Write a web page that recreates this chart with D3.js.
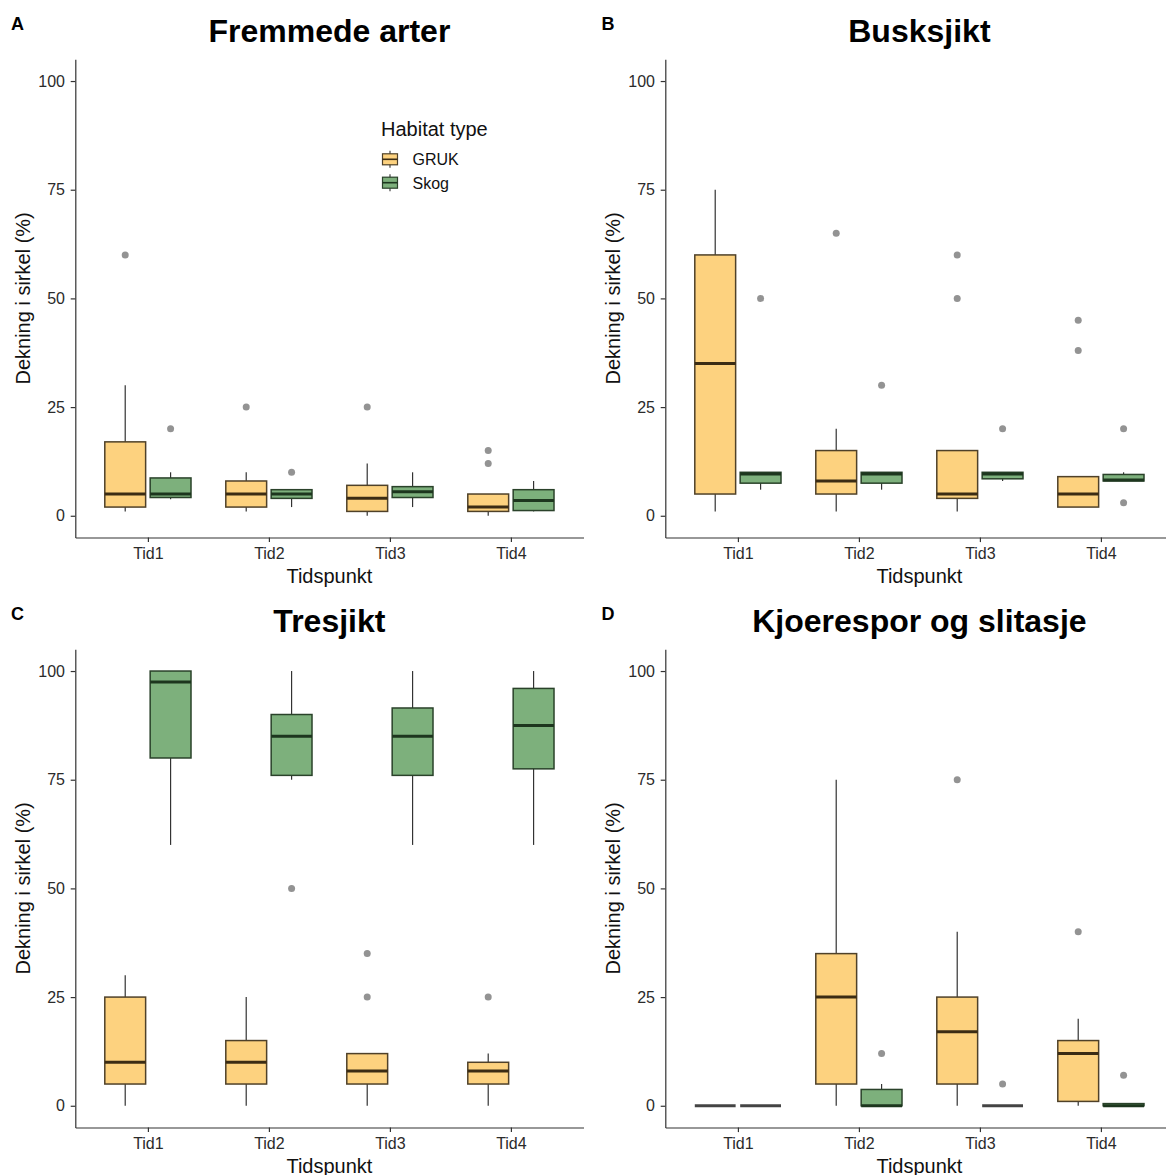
<!DOCTYPE html>
<html>
<head>
<meta charset="utf-8">
<script src="https://cdn.jsdelivr.net/npm/d3@7"></script>
<style>
  body { margin: 0; background: #fff; }
  svg { display: block; font-family: "Liberation Sans", Arial, sans-serif; }
</style>
</head>
<body>
<div id="chart"></div>
<script>
const times = ["Tid1", "Tid2", "Tid3", "Tid4"];
const habitats = ["GRUK", "Skog"];
const panelTags = ["A", "B", "C", "D"];
const panelTitles = ["Fremmede arter", "Busksjikt", "Tresjikt", "Kjoerespor og slitasje"];
const yTicks = [0, 25, 50, 75, 100];

// each row: [lower whisker, Q1, median, Q3, upper whisker] for Tid1..Tid4
const fremmedeGruk = [[1, 2, 5, 17, 30], [1, 2, 5, 8, 10], [0, 1, 4, 7, 12], [0, 1, 2, 5, 5]];
const fremmedeSkog = [[3.8, 4.2, 5, 8.7, 10], [2, 4, 5, 6, 6], [2, 4.2, 5.5, 6.7, 10], [1, 1.2, 3.5, 6, 8]];
const fremmedeOut = [["Tid1", "GRUK", 60], ["Tid1", "Skog", 20], ["Tid2", "GRUK", 25], ["Tid2", "Skog", 10],
                     ["Tid3", "GRUK", 25], ["Tid4", "GRUK", 15], ["Tid4", "GRUK", 12]];

const buskGruk = [[1, 5, 35, 60, 75], [1, 5, 8, 15, 20], [1, 4, 5, 15, 15], [2, 2, 5, 9, 9]];
const buskSkog = [[6, 7.5, 9.6, 10, 10], [6, 7.5, 9.6, 10, 10], [8, 8.5, 9.6, 10, 10], [8, 8, 8.2, 9.5, 10]];
const buskOut = [["Tid1", "Skog", 50], ["Tid2", "GRUK", 65], ["Tid2", "Skog", 30], ["Tid3", "GRUK", 60],
                 ["Tid3", "GRUK", 50], ["Tid3", "Skog", 20], ["Tid4", "GRUK", 45], ["Tid4", "GRUK", 38],
                 ["Tid4", "Skog", 20], ["Tid4", "Skog", 3]];

const treGruk = [[0, 5, 10, 25, 30], [0, 5, 10, 15, 25], [0, 5, 8, 12, 12], [0, 5, 8, 10, 12]];
const treSkog = [[60, 80, 97.5, 100, 100], [75, 76, 85, 90, 100], [60, 76, 85, 91.5, 100], [60, 77.5, 87.5, 96, 100]];
const treOut = [["Tid2", "Skog", 50], ["Tid3", "GRUK", 35], ["Tid3", "GRUK", 25], ["Tid4", "GRUK", 25]];

const kjoerGruk = [[0, 0, 0, 0, 0], [0, 5, 25, 35, 75], [0, 5, 17, 25, 40], [0, 1, 12, 15, 20]];
const kjoerSkog = [[0, 0, 0, 0, 0], [0, 0, 0, 3.75, 5], [0, 0, 0, 0, 0], [0, 0, 0, 0.5, 0.5]];
const kjoerOut = [["Tid2", "Skog", 12], ["Tid3", "GRUK", 75], ["Tid3", "Skog", 5], ["Tid4", "GRUK", 40],
                  ["Tid4", "Skog", 7]];

const panels = [
  { gruk: fremmedeGruk, skog: fremmedeSkog, out: fremmedeOut },
  { gruk: buskGruk, skog: buskSkog, out: buskOut },
  { gruk: treGruk, skog: treSkog, out: treOut },
  { gruk: kjoerGruk, skog: kjoerSkog, out: kjoerOut }
];

const fill = d3.scaleOrdinal(habitats, ["#FDD27F", "#7DB07C"]);
const outline = d3.scaleOrdinal(habitats, ["#4f4129", "#2a422a"]);
const medianCol = d3.scaleOrdinal(habitats, ["#3b2c14", "#1d361e"]);

const width = 1166, height = 1175;
const svg = d3.select("#chart").append("svg")
  .attr("width", width)
  .attr("height", height);

panels.forEach((p, i) => {
  const col = i % 2, row = Math.floor(i / 2);
  const left = col === 0 ? 75.3 : 665.3;
  const right = left + 508.2;
  const top = 59.3 + row * 590;
  const bottom = 537.5 + row * 590;

  const g = svg.append("g");

  const x = d3.scalePoint().domain(times).range([left, right]).padding(0.6);
  const step = x.step();
  const xInner = d3.scaleBand().domain(habitats)
    .range([-0.375 * step, 0.375 * step])
    .paddingInner(0.1).paddingOuter(0.05);
  const y = d3.scaleLinear().domain([-5, 105]).range([bottom, top]);

  // Axes
  const yAxis = g.append("g")
    .attr("transform", `translate(${left},0)`)
    .call(d3.axisLeft(y).tickValues(yTicks).tickSize(4.6).tickSizeOuter(0).tickPadding(5.7));
  const xAxis = g.append("g")
    .attr("transform", `translate(0,${bottom})`)
    .call(d3.axisBottom(x).tickSize(4.6).tickSizeOuter(0).tickPadding(6));
  [yAxis, xAxis].forEach(a => {
    a.selectAll("path, line").attr("stroke", "#333").attr("stroke-width", 1.2);
    a.selectAll("text").attr("font-size", 16).attr("fill", "#2b2b2b")
      .attr("font-family", "\"Liberation Sans\", Arial, sans-serif");
  });

  // Box stats flattened
  const boxes = [];
  times.forEach((t, ti) => {
    boxes.push({ t, h: "GRUK", s: p.gruk[ti] });
    boxes.push({ t, h: "Skog", s: p.skog[ti] });
  });
  const cx = d => x(d.t) + xInner(d.h) + xInner.bandwidth() / 2;
  const bw = xInner.bandwidth();

  const bx = g.append("g").selectAll("g").data(boxes).enter().append("g");

  bx.append("line")
    .attr("x1", cx).attr("x2", cx)
    .attr("y1", d => y(d.s[0])).attr("y2", d => y(d.s[4]))
    .attr("stroke", "#333").attr("stroke-width", 1.2);

  bx.append("rect")
    .attr("x", d => cx(d) - bw / 2)
    .attr("width", bw)
    .attr("y", d => y(d.s[3]))
    .attr("height", d => y(d.s[1]) - y(d.s[3]))
    .attr("fill", d => fill(d.h))
    .attr("stroke", d => outline(d.h))
    .attr("stroke-width", 1.5);

  bx.append("line")
    .attr("x1", d => cx(d) - bw / 2).attr("x2", d => cx(d) + bw / 2)
    .attr("y1", d => y(d.s[2])).attr("y2", d => y(d.s[2]))
    .attr("stroke", d => (d.s[1] === d.s[3] ? "#444" : medianCol(d.h)))
    .attr("stroke-width", 3);

  // Outliers
  g.append("g").selectAll("circle").data(p.out).enter().append("circle")
    .attr("cx", d => x(d[0]) + xInner(d[1]) + bw / 2)
    .attr("cy", d => y(d[2]))
    .attr("r", 3.5)
    .attr("fill", "#939393");

  // Titles
  g.append("text")
    .attr("x", (left + right) / 2).attr("y", top - 17.3)
    .attr("text-anchor", "middle")
    .attr("font-size", 32).attr("font-weight", "bold").attr("fill", "#000")
    .text(panelTitles[i]);

  g.append("text")
    .attr("x", col === 0 ? 11 : 601.5).attr("y", top - 29.3)
    .attr("font-size", 18).attr("font-weight", "bold").attr("fill", "#000")
    .text(panelTags[i]);

  g.append("text")
    .attr("x", (left + right) / 2).attr("y", bottom + 45.5)
    .attr("text-anchor", "middle")
    .attr("font-size", 20).attr("fill", "#111")
    .text("Tidspunkt");

  g.append("text")
    .attr("transform", `translate(${left - 45.5},${(top + bottom) / 2}) rotate(-90)`)
    .attr("text-anchor", "middle")
    .attr("font-size", 20).attr("fill", "#111")
    .text("Dekning i sirkel (%)");

  // Legend only in the first panel
  if (i === 0) {
    const lg = g.append("g");
    lg.append("text")
      .attr("x", 381).attr("y", 136)
      .attr("font-size", 20).attr("fill", "#111")
      .text("Habitat type");
    const items = lg.selectAll("g.key").data(habitats).enter().append("g")
      .attr("class", "key")
      .attr("transform", (d, k) => `translate(390,${159.3 + k * 23.4})`);
    items.append("line")
      .attr("y1", -8.5).attr("y2", 8.5)
      .attr("stroke", "#333").attr("stroke-width", 1.1);
    items.append("rect")
      .attr("x", -7.5).attr("y", -5.5).attr("width", 15).attr("height", 11)
      .attr("fill", d => fill(d)).attr("stroke", d => outline(d)).attr("stroke-width", 1.2);
    items.append("line")
      .attr("x1", -7.5).attr("x2", 7.5)
      .attr("stroke", d => medianCol(d)).attr("stroke-width", 1.6);
    items.append("text")
      .attr("x", 22.5).attr("y", 6)
      .attr("font-size", 16).attr("fill", "#111")
      .text(d => d);
  }
});
</script>
</body>
</html>
